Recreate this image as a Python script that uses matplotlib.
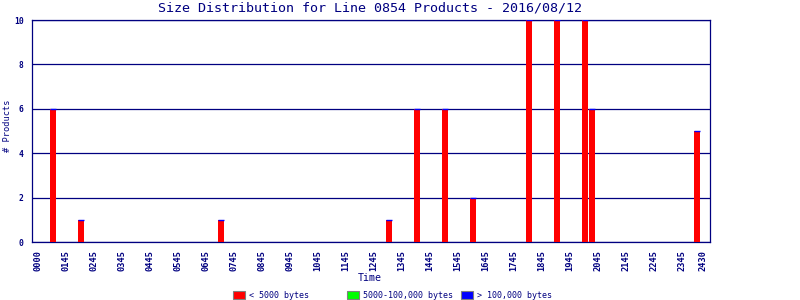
import matplotlib
matplotlib.use("Agg")
import matplotlib.pyplot as plt
from matplotlib.patches import Rectangle

# ---- data ----
title = "Size Distribution for Line 0854 Products - 2016/08/12"
bar_times = ["0045", "0145", "0645", "1245", "1345", "1445", "1545",
             "1745", "1845", "1945", "2000", "2345"]
small_counts = [6, 1, 1, 1, 6, 6, 2, 10, 10, 10, 6, 5]      # < 5000 bytes
medium_counts = [0, 0, 0, 0, 0, 0, 0, 0, 0, 0, 0, 0]        # 5000-100,000 bytes
large_counts = [0, 0, 0, 0, 0, 0, 0, 0, 0, 0, 0, 0]         # > 100,000 bytes
series_names = ["< 5000 bytes", "5000-100,000 bytes", "> 100,000 bytes"]
series_colors = ["#ff0000", "#00ff00", "#0000ff"]
tick_labels = ["0000", "0145", "0245", "0345", "0445", "0545", "0645", "0745",
               "0845", "0945", "1045", "1145", "1245", "1345", "1445", "1545",
               "1645", "1745", "1845", "1945", "2045", "2145", "2245", "2345",
               "2430"]
y_ticks = [0, 2, 4, 6, 8, 10]

NAVY = "#000080"
FONT = "DejaVu Sans Mono"

def to_hours(s):
    return int(s[:2]) + int(s[2:]) / 60.0

x = [to_hours(t) for t in bar_times]

fig = plt.figure(figsize=(8, 3), dpi=100)
ax = fig.add_axes([0.04, 0.1933, 0.8475, 0.74])

w = 0.215
ax.bar(x, small_counts, width=w, color=series_colors[0], linewidth=0, zorder=3)
bottom2 = [a for a in small_counts]
ax.bar(x, medium_counts, width=w, bottom=bottom2, color=series_colors[1],
       linewidth=0, zorder=3)
bottom3 = [a + b for a, b in zip(small_counts, medium_counts)]
ax.bar(x, large_counts, width=w, bottom=bottom3, color=series_colors[2],
       edgecolor=series_colors[2], linewidth=1.0, zorder=4)

ax.set_xlim(0, 24.21)
ax.set_ylim(0, 10)
tick_pos = [0.21 + i for i in range(len(tick_labels) - 1)] + [23.96]
ax.set_xticks(tick_pos)
ax.set_xticklabels(tick_labels, rotation=90, fontsize=6.2, family=FONT,
                   color=NAVY, fontweight="bold")
ax.set_yticks(y_ticks)
ax.set_yticklabels([str(v) for v in y_ticks], fontsize=5.8, family=FONT,
                   color=NAVY, fontweight="bold")
ax.tick_params(axis="both", length=0)
ax.tick_params(axis="x", pad=6)
ax.tick_params(axis="y", pad=6)

ax.yaxis.grid(True, color=NAVY, linewidth=0.9, zorder=1)
ax.set_axisbelow(True)
for sp in ax.spines.values():
    sp.set_color(NAVY)
    sp.set_linewidth(0.9)

fig.text(0.4625, 0.972, title, ha="center", va="center", fontsize=9.6,
         family=FONT, color=NAVY)
fig.text(8 / 800, 1 - 126 / 300, "# Products", rotation=90, ha="center",
         va="center", fontsize=6.2, family=FONT, color=NAVY)
fig.text(0.4625, 0.073, "Time", ha="center", va="center", fontsize=7.2,
         family=FONT, color=NAVY)

# legend
leg_x0 = [233, 347, 461]
for name, col, lx in zip(series_names, series_colors, leg_x0):
    fig.patches.append(Rectangle((lx / 800, 1 - 299 / 300), 12 / 800, 8 / 300,
                                 transform=fig.transFigure, facecolor=col,
                                 edgecolor="#808080", linewidth=0.8))
    fig.text((lx + 16) / 800, 1 - 295 / 300, name, ha="left", va="center",
             fontsize=6.0, family=FONT, color=NAVY)

fig.savefig("out.png", dpi=100)
